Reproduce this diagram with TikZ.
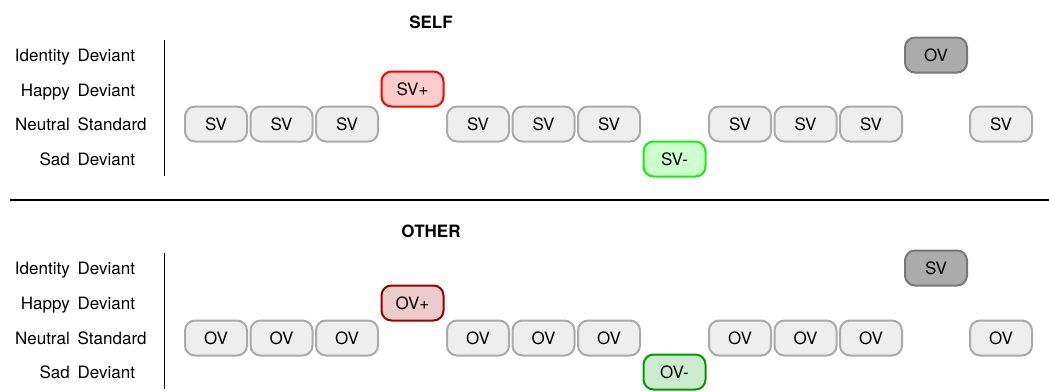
\documentclass[tikz,border=0pt]{standalone}
\usepackage{fontspec}
\setmainfont{TeX Gyre Heros}

\definecolor{stdfill}{HTML}{EEEEEE}
\definecolor{stdline}{HTML}{AAAAAA}
\definecolor{sadline}{HTML}{11EE11}
\definecolor{sadfill}{HTML}{CCFFCC}
\tikzstyle{trial}=[draw = stdline, fill = stdfill, line width = 2pt, rounded corners = 10pt,
  minimum width = 62pt, minimum height = 35pt, inner sep = 0pt, text height = 12.2pt, text depth = 0pt]
\tikzstyle{happy}=[trial, draw = red, fill = red!20]
\tikzstyle{sad}=[trial, draw = sadline, fill = sadfill]
\tikzstyle{ident}=[trial, draw = black!53, fill = black!33]
\tikzstyle{happyo}=[trial, draw = red!60!black, fill = red!60!black!20]
\tikzstyle{sado}=[trial, draw = green!60!black, fill = green!60!black!20]
\tikzstyle{word}=[inner sep = 0pt, text height = 12.2pt, text depth = 0pt]
\tikzstyle{first}=[word, anchor = east]
\tikzstyle{second}=[word, anchor = west]
\tikzstyle{title}=[font = \fontsize{17}{20}\selectfont\bfseries]

\begin{document}
\begin{tikzpicture}[x = 1pt, y = -1pt, font = \fontsize{17}{20}\selectfont]
\useasboundingbox (0,0) rectangle (1049,391);
%
\draw (431,22) node[title](self){SELF};
\draw (70,55) node[first](sid1){Identity}; \draw (77.5,55) node[second](sid2){Deviant};
\draw (70,90) node[first](shd1){Happy}; \draw (77.5,90) node[second](shd2){Deviant};
\draw (70,124) node[first](sns1){Neutral}; \draw (77.5,124) node[second](sns2){Standard};
\draw (70,159) node[first](ssd1){Sad}; \draw (77.5,159) node[second](ssd2){Deviant};
\draw[line width = 1pt] (164,40) -- (164,176);
%
\draw (216,124) node[trial](s1){SV}; \draw (281.5,124) node[trial](s2){SV};
\draw (347,124) node[trial](s3){SV}; \draw (412.5,89) node[happy](s4){SV+};
\draw (478,124) node[trial](s5){SV}; \draw (543.5,124) node[trial](s6){SV};
\draw (609,124) node[trial](s7){SV}; \draw (674.5,159) node[sad](s8){SV-};
\draw (740,124) node[trial](s9){SV}; \draw (805.5,124) node[trial](s10){SV};
\draw (871,124) node[trial](s11){SV}; \draw (936,55) node[ident](s12){OV};
\draw (1001,124) node[trial](s13){SV};
%
\draw[line width = 2pt] (10,200) -- (1049,200);
%
\draw (431,231) node[title](other){OTHER};
\draw (70,268) node[first](oid1){Identity}; \draw (77.5,268) node[second](oid2){Deviant};
\draw (70,303) node[first](ohd1){Happy}; \draw (77.5,303) node[second](ohd2){Deviant};
\draw (70,338) node[first](ons1){Neutral}; \draw (77.5,338) node[second](ons2){Standard};
\draw (70,372) node[first](osd1){Sad}; \draw (77.5,372) node[second](osd2){Deviant};
\draw[line width = 1pt] (164,253) -- (164,389);
%
\draw (216,338) node[trial](o1){OV}; \draw (281.5,338) node[trial](o2){OV};
\draw (347,338) node[trial](o3){OV}; \draw (412.5,303) node[happyo](o4){OV+};
\draw (478,338) node[trial](o5){OV}; \draw (543.5,338) node[trial](o6){OV};
\draw (609,338) node[trial](o7){OV}; \draw (674.5,372) node[sado](o8){OV-};
\draw (740,338) node[trial](o9){OV}; \draw (805.5,338) node[trial](o10){OV};
\draw (871,338) node[trial](o11){OV}; \draw (936,268) node[ident](o12){SV};
\draw (1001,338) node[trial](o13){OV};
\end{tikzpicture}
\end{document}
